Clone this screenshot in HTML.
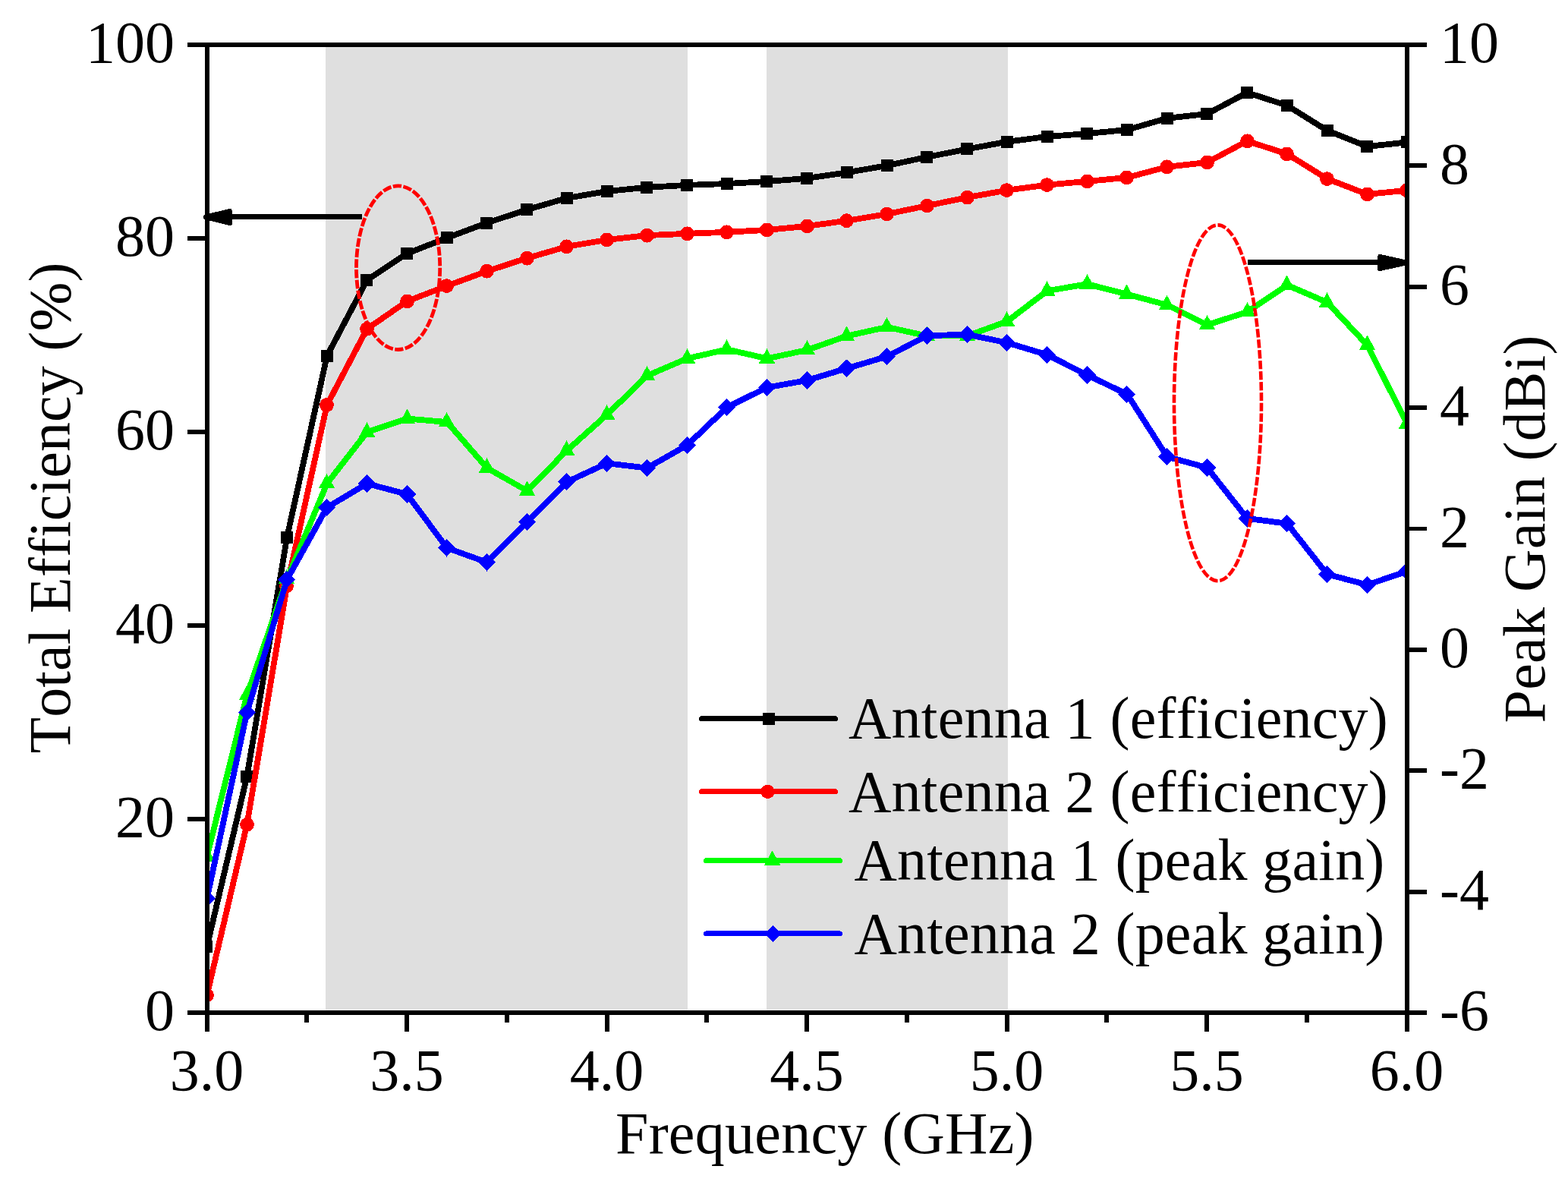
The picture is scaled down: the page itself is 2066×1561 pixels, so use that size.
<!DOCTYPE html>
<html lang="en"><head><meta charset="utf-8"><title>Total Efficiency and Peak Gain versus Frequency</title>
<style>html,body{margin:0;padding:0;background:#fff;}body{width:2066px;height:1561px;overflow:hidden;}svg{display:block;}text{font-family:"Liberation Serif","Times New Roman",Times,serif;font-size:78px;fill:#000;font-variant-ligatures:none;font-kerning:none;white-space:pre;}</style>
</head><body>
<svg width="2066" height="1561" viewBox="0 0 2066 1561">
<rect x="0" y="0" width="2066" height="1561" fill="#fff"/>
<defs><clipPath id="plot"><rect x="273" y="59" width="1581" height="1275"/></clipPath></defs>
<g shape-rendering="crispEdges" fill="#dfdfdf">
<rect x="429" y="59" width="477" height="1271"/>
<rect x="1010" y="59" width="318" height="1271"/>
<rect x="429" y="1330" width="477" height="1" fill="#f0f0f0"/>
<rect x="1010" y="1330" width="318" height="1" fill="#f0f0f0"/>
</g>
<g shape-rendering="crispEdges" fill="#000" stroke="#000" stroke-width="6.6" stroke-linejoin="round">
<rect x="300" y="282" width="177" height="7" stroke="none"/>
<polygon points="271.2,285.9 302.7,278.2 302.7,293.7"/>
<rect x="1644" y="342" width="177" height="7" stroke="none"/>
<polygon points="1853.3,346 1818.3,338.3 1818.3,353.7"/>
</g>
<g clip-path="url(#plot)" shape-rendering="crispEdges">
<polyline points="272.65,1247 325.37,1022.9 378.08,708.1 430.8,469 483.52,369 536.23,334 588.95,313.3 641.67,293.6 694.38,276.2 747.1,260.9 799.82,252 852.53,246.8 905.25,243.9 957.97,242 1010.68,239 1063.4,234.9 1116.12,227.2 1168.83,218.1 1221.55,206.9 1274.27,196.4 1326.98,186.7 1379.7,180 1432.42,176 1485.13,171 1537.85,155.8 1590.57,150 1643.28,122 1696,139 1748.72,171.9 1801.43,193 1854.15,187.4" fill="none" stroke="#000" stroke-width="7.8" stroke-linejoin="round" stroke-linecap="round"/>
<rect x="264" y="1239" width="16" height="16" fill="#000"/><rect x="317" y="1014.9" width="16" height="16" fill="#000"/><rect x="370" y="700.1" width="16" height="16" fill="#000"/><rect x="423" y="461" width="16" height="16" fill="#000"/><rect x="475" y="361" width="16" height="16" fill="#000"/><rect x="528" y="326" width="16" height="16" fill="#000"/><rect x="581" y="305.3" width="16" height="16" fill="#000"/><rect x="633" y="285.6" width="16" height="16" fill="#000"/><rect x="686" y="268.2" width="16" height="16" fill="#000"/><rect x="739" y="252.9" width="16" height="16" fill="#000"/><rect x="792" y="244" width="16" height="16" fill="#000"/><rect x="844" y="238.8" width="16" height="16" fill="#000"/><rect x="897" y="235.9" width="16" height="16" fill="#000"/><rect x="950" y="234" width="16" height="16" fill="#000"/><rect x="1002" y="231" width="16" height="16" fill="#000"/><rect x="1055" y="226.9" width="16" height="16" fill="#000"/><rect x="1108" y="219.2" width="16" height="16" fill="#000"/><rect x="1161" y="210.1" width="16" height="16" fill="#000"/><rect x="1213" y="198.9" width="16" height="16" fill="#000"/><rect x="1266" y="188.4" width="16" height="16" fill="#000"/><rect x="1319" y="178.7" width="16" height="16" fill="#000"/><rect x="1372" y="172" width="16" height="16" fill="#000"/><rect x="1424" y="168" width="16" height="16" fill="#000"/><rect x="1477" y="163" width="16" height="16" fill="#000"/><rect x="1530" y="147.8" width="16" height="16" fill="#000"/><rect x="1582" y="142" width="16" height="16" fill="#000"/><rect x="1635" y="114" width="16" height="16" fill="#000"/><rect x="1688" y="131" width="16" height="16" fill="#000"/><rect x="1741" y="163.9" width="16" height="16" fill="#000"/><rect x="1793" y="185" width="16" height="16" fill="#000"/><rect x="1846" y="179.4" width="16" height="16" fill="#000"/>
<polyline points="272.65,1311 325.37,1086.3 378.08,772 430.8,533.5 483.52,433.3 536.23,396.9 588.95,376.6 641.67,357.2 694.38,340.1 747.1,324.8 799.82,315.9 852.53,310.1 905.25,307.8 957.97,305.8 1010.68,302.9 1063.4,297.9 1116.12,290.7 1168.83,282 1221.55,271 1274.27,260.1 1326.98,250.6 1379.7,243.6 1432.42,238.9 1485.13,233.9 1537.85,219.8 1590.57,213.9 1643.28,185.8 1696,202.9 1748.72,235.6 1801.43,255.9 1854.15,250.7" fill="none" stroke="#f00" stroke-width="7.8" stroke-linejoin="round" stroke-linecap="round"/>
<circle cx="272.5" cy="1311" r="9.4" fill="#f00"/><circle cx="325.5" cy="1086.3" r="9.4" fill="#f00"/><circle cx="377.5" cy="772" r="9.4" fill="#f00"/><circle cx="430.5" cy="533.5" r="9.4" fill="#f00"/><circle cx="483.5" cy="433.3" r="9.4" fill="#f00"/><circle cx="536.5" cy="396.9" r="9.4" fill="#f00"/><circle cx="588.5" cy="376.6" r="9.4" fill="#f00"/><circle cx="641.5" cy="357.2" r="9.4" fill="#f00"/><circle cx="694.5" cy="340.1" r="9.4" fill="#f00"/><circle cx="746.5" cy="324.8" r="9.4" fill="#f00"/><circle cx="799.5" cy="315.9" r="9.4" fill="#f00"/><circle cx="852.5" cy="310.1" r="9.4" fill="#f00"/><circle cx="905.5" cy="307.8" r="9.4" fill="#f00"/><circle cx="957.5" cy="305.8" r="9.4" fill="#f00"/><circle cx="1010.5" cy="302.9" r="9.4" fill="#f00"/><circle cx="1063.5" cy="297.9" r="9.4" fill="#f00"/><circle cx="1115.5" cy="290.7" r="9.4" fill="#f00"/><circle cx="1168.5" cy="282" r="9.4" fill="#f00"/><circle cx="1221.5" cy="271" r="9.4" fill="#f00"/><circle cx="1274.5" cy="260.1" r="9.4" fill="#f00"/><circle cx="1326.5" cy="250.6" r="9.4" fill="#f00"/><circle cx="1379.5" cy="243.6" r="9.4" fill="#f00"/><circle cx="1432.5" cy="238.9" r="9.4" fill="#f00"/><circle cx="1484.5" cy="233.9" r="9.4" fill="#f00"/><circle cx="1537.5" cy="219.8" r="9.4" fill="#f00"/><circle cx="1590.5" cy="213.9" r="9.4" fill="#f00"/><circle cx="1643.5" cy="185.8" r="9.4" fill="#f00"/><circle cx="1695.5" cy="202.9" r="9.4" fill="#f00"/><circle cx="1748.5" cy="235.6" r="9.4" fill="#f00"/><circle cx="1801.5" cy="255.9" r="9.4" fill="#f00"/><circle cx="1853.5" cy="250.7" r="9.4" fill="#f00"/>
<polyline points="272.65,1128.4 325.37,915.7 378.08,763 430.8,637 483.52,569.3 536.23,551.5 588.95,556 641.67,616.4 694.38,646.5 747.1,593.3 799.82,546.2 852.53,495 905.25,472.3 957.97,460.3 1010.68,472.3 1063.4,461.1 1116.12,442.5 1168.83,430.9 1221.55,442.5 1274.27,442.5 1326.98,423.4 1379.7,383.2 1432.42,374.2 1485.13,387.6 1537.85,401.8 1590.57,428 1643.28,411 1696,375.6 1748.72,398.3 1801.43,454.6 1854.15,558.4" fill="none" stroke="#0f0" stroke-width="7.8" stroke-linejoin="round" stroke-linecap="round"/>
<polygon points="272.5,1115.4 283.2,1134.7 261.8,1134.7" fill="#0f0"/><polygon points="325.5,902.7 336.2,922 314.8,922" fill="#0f0"/><polygon points="377.5,750 388.2,769.3 366.8,769.3" fill="#0f0"/><polygon points="430.5,624 441.2,643.3 419.8,643.3" fill="#0f0"/><polygon points="483.5,556.3 494.2,575.6 472.8,575.6" fill="#0f0"/><polygon points="536.5,538.5 547.2,557.8 525.8,557.8" fill="#0f0"/><polygon points="588.5,543 599.2,562.3 577.8,562.3" fill="#0f0"/><polygon points="641.5,603.4 652.2,622.7 630.8,622.7" fill="#0f0"/><polygon points="694.5,633.5 705.2,652.8 683.8,652.8" fill="#0f0"/><polygon points="746.5,580.3 757.2,599.6 735.8,599.6" fill="#0f0"/><polygon points="799.5,533.2 810.2,552.5 788.8,552.5" fill="#0f0"/><polygon points="852.5,482 863.2,501.3 841.8,501.3" fill="#0f0"/><polygon points="905.5,459.3 916.2,478.6 894.8,478.6" fill="#0f0"/><polygon points="957.5,447.3 968.2,466.6 946.8,466.6" fill="#0f0"/><polygon points="1010.5,459.3 1021.2,478.6 999.8,478.6" fill="#0f0"/><polygon points="1063.5,448.1 1074.2,467.4 1052.8,467.4" fill="#0f0"/><polygon points="1115.5,429.5 1126.2,448.8 1104.8,448.8" fill="#0f0"/><polygon points="1168.5,417.9 1179.2,437.2 1157.8,437.2" fill="#0f0"/><polygon points="1221.5,429.5 1232.2,448.8 1210.8,448.8" fill="#0f0"/><polygon points="1274.5,429.5 1285.2,448.8 1263.8,448.8" fill="#0f0"/><polygon points="1326.5,410.4 1337.2,429.7 1315.8,429.7" fill="#0f0"/><polygon points="1379.5,370.2 1390.2,389.5 1368.8,389.5" fill="#0f0"/><polygon points="1432.5,361.2 1443.2,380.5 1421.8,380.5" fill="#0f0"/><polygon points="1484.5,374.6 1495.2,393.9 1473.8,393.9" fill="#0f0"/><polygon points="1537.5,388.8 1548.2,408.1 1526.8,408.1" fill="#0f0"/><polygon points="1590.5,415 1601.2,434.3 1579.8,434.3" fill="#0f0"/><polygon points="1643.5,398 1654.2,417.3 1632.8,417.3" fill="#0f0"/><polygon points="1695.5,362.6 1706.2,381.9 1684.8,381.9" fill="#0f0"/><polygon points="1748.5,385.3 1759.2,404.6 1737.8,404.6" fill="#0f0"/><polygon points="1801.5,441.6 1812.2,460.9 1790.8,460.9" fill="#0f0"/><polygon points="1853.5,545.4 1864.2,564.7 1842.8,564.7" fill="#0f0"/>
<polyline points="272.65,1183.5 325.37,938.6 378.08,763.6 430.8,668.5 483.52,637.1 536.23,651 588.95,721.8 641.67,740.8 694.38,687.4 747.1,634.7 799.82,610.3 852.53,616.5 905.25,586.6 957.97,536.4 1010.68,510.4 1063.4,501 1116.12,485.2 1168.83,469.6 1221.55,442.2 1274.27,440.6 1326.98,451.5 1379.7,467.3 1432.42,494 1485.13,519.3 1537.85,601.7 1590.57,616.1 1643.28,682.9 1696,689.7 1748.72,756.5 1801.43,770.4 1854.15,752.6" fill="none" stroke="#00f" stroke-width="7.8" stroke-linejoin="round" stroke-linecap="round"/>
<polygon points="272.5,1171.8 284.2,1183.5 272.5,1195.2 260.8,1183.5" fill="#00f"/><polygon points="325.5,926.9 337.2,938.6 325.5,950.3 313.8,938.6" fill="#00f"/><polygon points="377.5,751.9 389.2,763.6 377.5,775.3 365.8,763.6" fill="#00f"/><polygon points="430.5,656.8 442.2,668.5 430.5,680.2 418.8,668.5" fill="#00f"/><polygon points="483.5,625.4 495.2,637.1 483.5,648.8 471.8,637.1" fill="#00f"/><polygon points="536.5,639.3 548.2,651 536.5,662.7 524.8,651" fill="#00f"/><polygon points="588.5,710.1 600.2,721.8 588.5,733.5 576.8,721.8" fill="#00f"/><polygon points="641.5,729.1 653.2,740.8 641.5,752.5 629.8,740.8" fill="#00f"/><polygon points="694.5,675.7 706.2,687.4 694.5,699.1 682.8,687.4" fill="#00f"/><polygon points="746.5,623 758.2,634.7 746.5,646.4 734.8,634.7" fill="#00f"/><polygon points="799.5,598.6 811.2,610.3 799.5,622 787.8,610.3" fill="#00f"/><polygon points="852.5,604.8 864.2,616.5 852.5,628.2 840.8,616.5" fill="#00f"/><polygon points="905.5,574.9 917.2,586.6 905.5,598.3 893.8,586.6" fill="#00f"/><polygon points="957.5,524.7 969.2,536.4 957.5,548.1 945.8,536.4" fill="#00f"/><polygon points="1010.5,498.7 1022.2,510.4 1010.5,522.1 998.8,510.4" fill="#00f"/><polygon points="1063.5,489.3 1075.2,501 1063.5,512.7 1051.8,501" fill="#00f"/><polygon points="1115.5,473.5 1127.2,485.2 1115.5,496.9 1103.8,485.2" fill="#00f"/><polygon points="1168.5,457.9 1180.2,469.6 1168.5,481.3 1156.8,469.6" fill="#00f"/><polygon points="1221.5,430.5 1233.2,442.2 1221.5,453.9 1209.8,442.2" fill="#00f"/><polygon points="1274.5,428.9 1286.2,440.6 1274.5,452.3 1262.8,440.6" fill="#00f"/><polygon points="1326.5,439.8 1338.2,451.5 1326.5,463.2 1314.8,451.5" fill="#00f"/><polygon points="1379.5,455.6 1391.2,467.3 1379.5,479 1367.8,467.3" fill="#00f"/><polygon points="1432.5,482.3 1444.2,494 1432.5,505.7 1420.8,494" fill="#00f"/><polygon points="1484.5,507.6 1496.2,519.3 1484.5,531 1472.8,519.3" fill="#00f"/><polygon points="1537.5,590 1549.2,601.7 1537.5,613.4 1525.8,601.7" fill="#00f"/><polygon points="1590.5,604.4 1602.2,616.1 1590.5,627.8 1578.8,616.1" fill="#00f"/><polygon points="1643.5,671.2 1655.2,682.9 1643.5,694.6 1631.8,682.9" fill="#00f"/><polygon points="1695.5,678 1707.2,689.7 1695.5,701.4 1683.8,689.7" fill="#00f"/><polygon points="1748.5,744.8 1760.2,756.5 1748.5,768.2 1736.8,756.5" fill="#00f"/><polygon points="1801.5,758.7 1813.2,770.4 1801.5,782.1 1789.8,770.4" fill="#00f"/><polygon points="1853.5,740.9 1865.2,752.6 1853.5,764.3 1841.8,752.6" fill="#00f"/>
</g>
<path d="M469.5,352.7 A55.1,107.8 0 1 1 579.7,352.7 A55.1,107.8 0 1 1 469.5,352.7 Z" fill="none" stroke="#f00" stroke-width="4.8" pathLength="532" stroke-dasharray="11.6 2.4"/>
<path d="M1547,530.8 A57.5,234.4 0 1 1 1662,530.8 A57.5,234.4 0 1 1 1547,530.8 Z" fill="none" stroke="#f00" stroke-width="4.6" pathLength="1008" stroke-dasharray="11.2 2.8"/>
<g shape-rendering="crispEdges" fill="#000">
<rect x="247" y="56" width="1633" height="6"/>
<rect x="247" y="1331" width="1633" height="6"/>
<rect x="270" y="56" width="6" height="1303"/>
<rect x="1851" y="56" width="6" height="1303"/>
<rect x="247" y="311" width="24" height="6"/>
<rect x="247" y="566" width="24" height="6"/>
<rect x="247" y="821" width="24" height="6"/>
<rect x="247" y="1076" width="24" height="6"/>
<rect x="1856" y="215" width="24" height="6"/>
<rect x="1856" y="375" width="24" height="6"/>
<rect x="1856" y="534" width="24" height="6"/>
<rect x="1856" y="694" width="24" height="5"/>
<rect x="1856" y="853" width="24" height="6"/>
<rect x="1856" y="1012" width="24" height="6"/>
<rect x="1856" y="1172" width="24" height="6"/>
<rect x="401" y="1336" width="6" height="11"/>
<rect x="533" y="1336" width="6" height="23"/>
<rect x="665" y="1336" width="6" height="11"/>
<rect x="797" y="1336" width="6" height="23"/>
<rect x="928" y="1336" width="6" height="11"/>
<rect x="1060" y="1336" width="6" height="23"/>
<rect x="1192" y="1336" width="6" height="11"/>
<rect x="1324" y="1336" width="6" height="23"/>
<rect x="1455" y="1336" width="6" height="11"/>
<rect x="1587" y="1336" width="6" height="23"/>
<rect x="1719" y="1336" width="6" height="11"/>
</g>
<g text-anchor="end">
<text x="230" y="82.2">100</text>
<text x="230" y="337.2">80</text>
<text x="230" y="592.2">60</text>
<text x="230" y="847.2">40</text>
<text x="230" y="1102.2">20</text>
<text x="230" y="1357.2">0</text>
</g>
<g text-anchor="start">
<text x="1897" y="82.2">10</text>
<text x="1897" y="241.57">8</text>
<text x="1897" y="400.95">6</text>
<text x="1897" y="560.33">4</text>
<text x="1897" y="719.7">2</text>
<text x="1897" y="879.08">0</text>
<text x="1897" y="1038.45">-2</text>
<text x="1897" y="1197.83">-4</text>
<text x="1897" y="1357.2">-6</text>
</g>
<g text-anchor="middle">
<text x="272.5" y="1436.2">3.0</text>
<text x="536" y="1436.2">3.5</text>
<text x="799.5" y="1436.2">4.0</text>
<text x="1063" y="1436.2">4.5</text>
<text x="1326.5" y="1436.2">5.0</text>
<text x="1590" y="1436.2">5.5</text>
<text x="1853.5" y="1436.2">6.0</text>
</g>
<text x="811" y="1519.2" letter-spacing="0.257">Frequency (GHz)</text>
<text transform="translate(92.4,992.5) rotate(-90)" letter-spacing="0.084">Total Efficiency (%)</text>
<text transform="translate(2035.4,952.5) rotate(-90)" letter-spacing="0.286">Peak Gain (dBi)</text>
<g shape-rendering="crispEdges">
<line x1="924.5" y1="946.5" x2="1100.5" y2="946.5" stroke="#000" stroke-width="7" stroke-linecap="round"/>
<rect x="1004.5" y="938.5" width="16" height="16" fill="#000"/>
</g>
<text x="1118" y="972.3" letter-spacing="0.229">Antenna 1 (efficiency)</text>
<g shape-rendering="crispEdges">
<line x1="924.5" y1="1042.8" x2="1100.5" y2="1042.8" stroke="#f00" stroke-width="7" stroke-linecap="round"/>
<circle cx="1011.5" cy="1042.8" r="9.2" fill="#f00"/>
</g>
<text x="1118" y="1068.9" letter-spacing="0.229">Antenna 2 (efficiency)</text>
<g shape-rendering="crispEdges">
<line x1="930.5" y1="1133.5" x2="1106.5" y2="1133.5" stroke="#0f0" stroke-width="7" stroke-linecap="round"/>
<polygon points="1017.6,1120.5 1028.3,1139.8 1006.9,1139.8" fill="#0f0"/>
</g>
<text x="1125.5" y="1159.4" letter-spacing="0.18">Antenna 1 (peak gain)</text>
<g shape-rendering="crispEdges">
<line x1="930.5" y1="1229.9" x2="1106.5" y2="1229.9" stroke="#00f" stroke-width="7" stroke-linecap="round"/>
<polygon points="1018.5,1218.9 1029.5,1229.9 1018.5,1240.9 1007.5,1229.9" fill="#00f"/>
</g>
<text x="1125.5" y="1255.7" letter-spacing="0.18">Antenna 2 (peak gain)</text>
</svg></body></html>
